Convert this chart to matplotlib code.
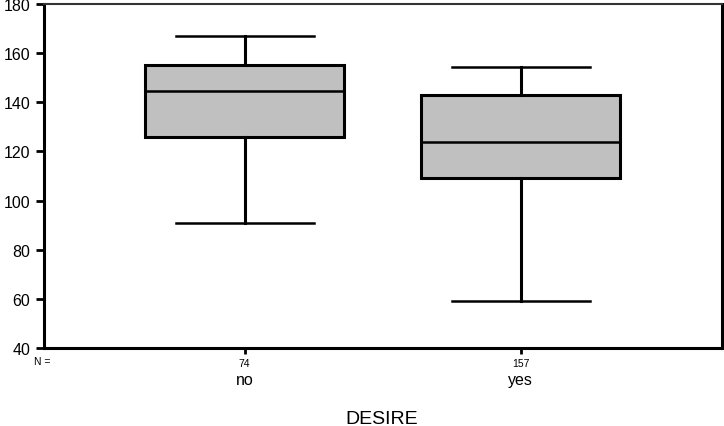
import matplotlib
matplotlib.use("Agg")
import matplotlib.pyplot as plt
from matplotlib.transforms import blended_transform_factory

plt.rcParams['font.family'] = ['Liberation Sans', 'DejaVu Sans']

categories = ["no", "yes"]
counts = ["74", "157"]
whislo = [91, 59]
q1 = [126, 109]
med = [144.5, 124]
q3 = [155, 143]
whishi = [167, 154.5]
yticks = [40, 60, 80, 100, 120, 140, 160, 180]

fig = plt.figure(figsize=(7.24, 4.27), dpi=100)
ax = fig.add_axes([44/724, 1-349/427, (722-44)/724, (349-5)/427])

stats = []
for i in range(len(categories)):
    stats.append(dict(whislo=whislo[i], q1=q1[i], med=med[i], q3=q3[i],
                      whishi=whishi[i], fliers=[], label=counts[i]))

positions = [1, 2]
ax.bxp(stats, positions=positions, widths=0.72, patch_artist=True,
       showfliers=False,
       boxprops=dict(facecolor='#c0c0c0', edgecolor='black', linewidth=2.2),
       medianprops=dict(color='black', linewidth=1.8),
       whiskerprops=dict(color='black', linewidth=2.2),
       capprops=dict(color='black', linewidth=1.8),
       capwidths=0.5)

ax.set_xlim(0.273, 2.73)
ax.set_ylim(40, 180)
ax.set_yticks(yticks)
ax.set_yticklabels([str(v) for v in yticks], fontsize=11.5)
ax.set_xticks(positions)
ax.set_xticklabels(counts, fontsize=7.5)
ax.tick_params(axis='y', direction='out', length=6, width=2, pad=4)
ax.tick_params(axis='x', direction='out', length=4, width=2, pad=3)

for side in ['left', 'bottom', 'right']:
    ax.spines[side].set_linewidth(2.2)
ax.spines['top'].set_linewidth(1.5)
ax.spines['top'].set_color('#333333')

trans = blended_transform_factory(ax.transData, fig.transFigure)
for p, c in zip(positions, categories):
    ax.text(p, 1-381/427, c, transform=trans, ha='center', va='center', fontsize=11.5)

fig.text(42/724, 1-362/427, "N =", ha='center', va='center', fontsize=7.5)
fig.text(382/724, 1-420/427, "DESIRE", ha='center', va='center', fontsize=14)

fig.savefig("out.png", dpi=100)
